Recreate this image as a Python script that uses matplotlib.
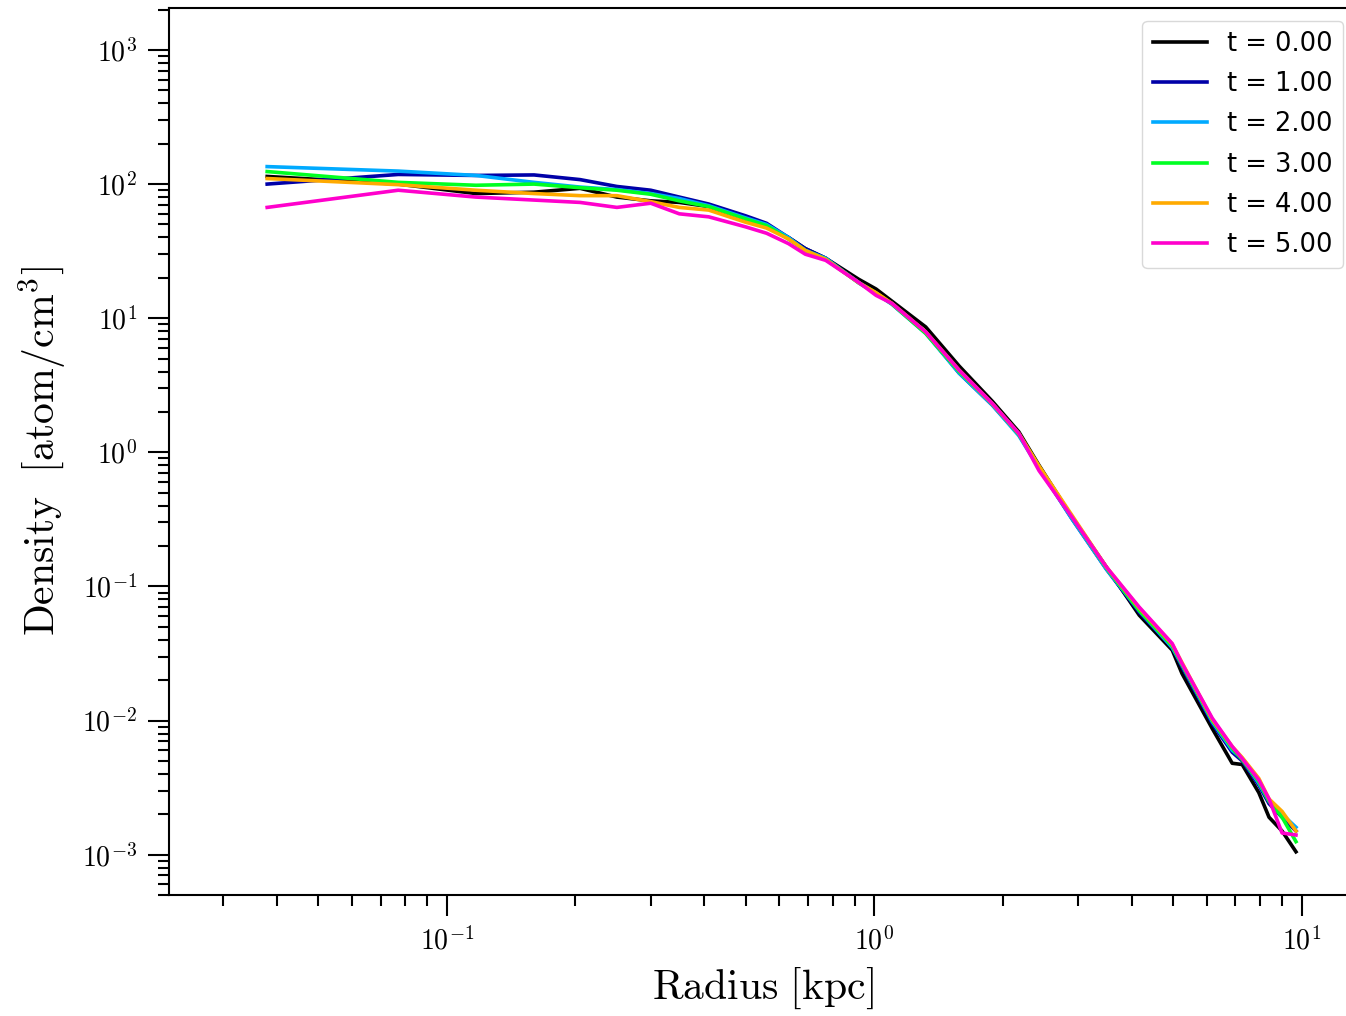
import matplotlib
matplotlib.use("Agg")
import numpy as np
import matplotlib.pyplot as plt

plt.rcParams["mathtext.fontset"] = "cm"
plt.rcParams["font.family"] = "serif"
plt.rcParams["font.serif"] = ["cmr10", "DejaVu Serif"]
plt.rcParams["axes.formatter.use_mathtext"] = True

# radius bins [kpc]
radius = [0.038, 0.077, 0.117, 0.16, 0.205, 0.25, 0.30, 0.35, 0.41, 0.50, 0.56, 0.63, 0.69, 0.77,
          0.92, 1.01, 1.10, 1.32, 1.58, 1.89, 2.18, 2.43, 2.90, 3.49, 4.17, 4.98, 5.25, 6.18,
          6.88, 7.26, 7.94, 8.39, 9.0, 9.7]

# density profiles [atom/cm^3], one per snapshot
dens_t0 = [114, 100, 85, 87, 93, 80, 75, 73, 68, 54, 48, 40, 33, 28,
           19.5, 16.5, 13.4, 8.6, 4.4, 2.4, 1.42, 0.80, 0.33, 0.14, 0.061, 0.0335, 0.0224, 0.0087,
           0.0048, 0.0047, 0.0029, 0.0019, 0.0015, 0.00105]
dens_t1 = [100, 118, 116, 117, 108, 96, 90, 80, 71, 58, 51, 40, 33, 28,
           18.5, 15.4, 12.8, 7.8, 3.9, 2.25, 1.35, 0.77, 0.32, 0.135, 0.064, 0.035, 0.025, 0.0095,
           0.0058, 0.0050, 0.0033, 0.0024, 0.0019, 0.0015]
dens_t2 = [135, 125, 116, 103, 95, 91, 85, 78, 69, 56, 50, 40, 32, 28,
           18.3, 15.3, 12.7, 7.7, 3.9, 2.25, 1.33, 0.76, 0.32, 0.135, 0.066, 0.035, 0.026, 0.0098,
           0.0060, 0.0052, 0.0034, 0.0025, 0.0020, 0.0016]
dens_t3 = [124, 103, 98, 100, 94, 90, 84, 75, 68, 55, 49, 39, 32, 27.5,
           18.4, 15.4, 12.8, 7.7, 4.0, 2.3, 1.36, 0.78, 0.33, 0.138, 0.066, 0.036, 0.026, 0.0100,
           0.0062, 0.0051, 0.0035, 0.0025, 0.0019, 0.00125]
dens_t4 = [110, 99, 90, 85, 82, 82, 74, 67, 64, 52, 47, 39, 32, 27.5,
           18.4, 15.5, 12.9, 7.9, 4.1, 2.3, 1.38, 0.79, 0.34, 0.14, 0.069, 0.037, 0.027, 0.0102,
           0.0064, 0.0053, 0.0037, 0.0026, 0.0021, 0.0015]
dens_t5 = [67, 90, 80, 76, 73, 67, 72, 60, 57, 48, 43, 36, 30, 27,
           18.5, 14.8, 12.9, 7.9, 4.1, 2.31, 1.38, 0.73, 0.33, 0.14, 0.070, 0.0375, 0.0266, 0.0104,
           0.0064, 0.0052, 0.0036, 0.0026, 0.00145, 0.0014]

times = [0.0, 1.0, 2.0, 3.0, 4.0, 5.0]
profiles = [dens_t0, dens_t1, dens_t2, dens_t3, dens_t4, dens_t5]
colors = ["black", "#0000a8", "#00aaff", "#00ff22", "#ffaa00", "#ff00cc"]

fig = plt.figure(figsize=(13.46, 10.16), dpi=100)
ax = fig.add_axes([0.1256, 0.1191, 0.8818, 0.873])

for t, dens, c in zip(times, profiles, colors):
	ax.plot(radius, dens, color=c, lw=2.6, label="t = %.2f" % t)

ax.set_xscale("log")
ax.set_yscale("log")
ax.set_xlim(0.0224, 13.4)
ax.set_ylim(5.0e-4, 2055)

for s in ax.spines.values():
	s.set_linewidth(1.5)
ax.tick_params(which="major", length=15, width=1.5, labelsize=20, pad=8)
ax.tick_params(which="minor", length=8, width=1.5)

ax.set_xlabel(r"$\mathrm{Radius\ [kpc]}$", fontsize=30, labelpad=7)
ax.set_ylabel(r"$\mathrm{Density\ \ [atom/cm^3]}$", fontsize=30, labelpad=10)

ax.legend(loc="upper right", prop={"family": "DejaVu Sans", "size": 18.5},
          handlelength=2.1, labelspacing=0.55, framealpha=1, edgecolor="0.85", fancybox=True)

plt.savefig("out.png", dpi=100)
